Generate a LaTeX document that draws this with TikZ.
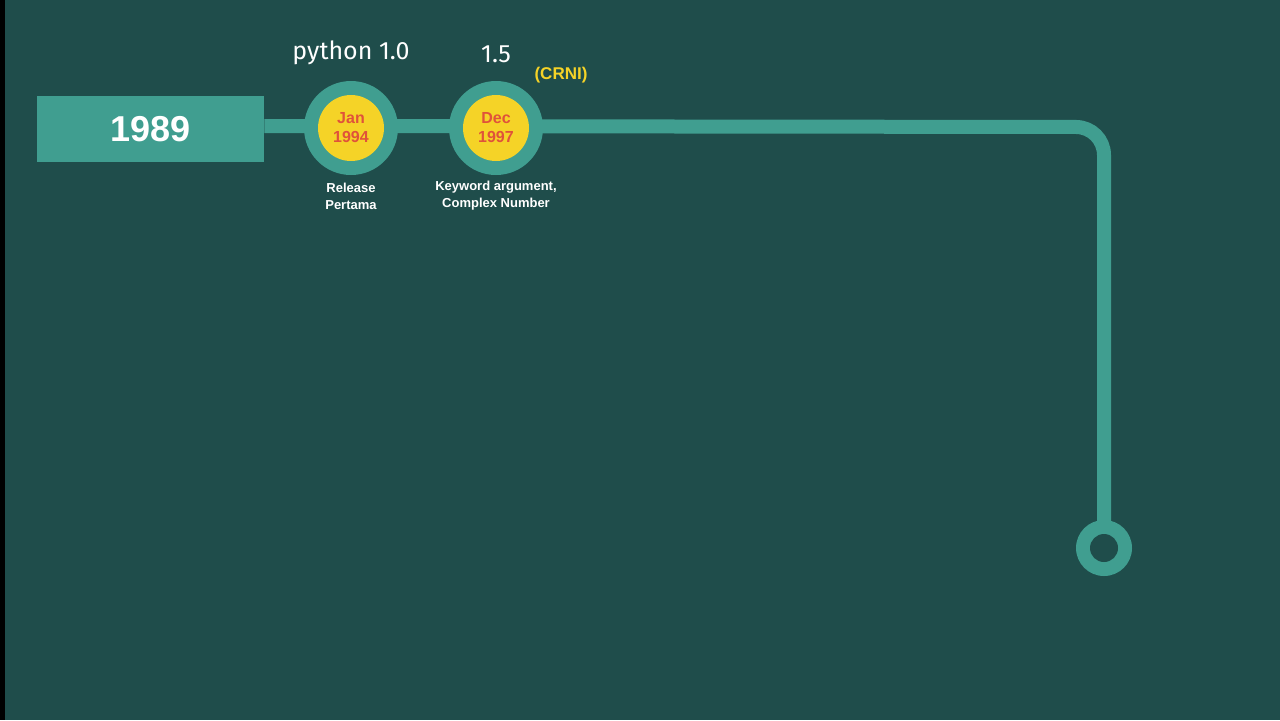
\documentclass[tikz,border=0pt]{standalone}
\usepackage{fontspec}
\setmainfont{Liberation Sans}
\newfontfamily\light{Fira Sans}
\definecolor{bg}{HTML}{1F4D4B}
\definecolor{tl}{HTML}{409E90}
\definecolor{yl}{HTML}{F5D327}
\definecolor{rd}{HTML}{E0523A}
\begin{document}
\begin{tikzpicture}[x=0.5pt,y=-0.5pt,
  outer/.style={circle,fill=tl,minimum size=47pt,inner sep=0pt},
  date/.style={circle,fill=yl,minimum size=33pt,inner sep=0pt,align=center,text=rd,font=\bfseries\fontsize{8}{9.5}\selectfont},
  sub/.style={text=white,align=center,font=\bfseries\fontsize{6.5}{8.5}\selectfont},
  ver/.style={text=white,font=\light\fontsize{12.5}{14}\selectfont}]
\fill[bg] (0,0) rectangle (1280,720);
\fill[black] (0,0) rectangle (5,720);
\useasboundingbox (0,0) rectangle (1280,720);
\node[fill=tl,minimum width=113.5pt,minimum height=33pt,inner sep=0pt,text=white,font=\bfseries\fontsize{18}{20}\selectfont] (y89) at (150.5,129) {1989};
\coordinate (e) at (1104,548);
\draw[tl,line width=7pt,rounded corners=14pt] (y89.east) ++(0,-3) -- (1104,127) -- (e);
\node[outer] (c1) at (351,128) {};
\node[outer] (c2) at (496,128) {};
\node[date] (d1) at (c1) {Jan\\1994};
\node[date] (d2) at (c2) {Dec\\1997};
\node[circle,fill=tl,minimum size=28pt,inner sep=0pt] (end) at (e) {};
\node[circle,fill=bg,minimum size=14pt,inner sep=0pt] at (end) {};
\node[ver] (v1) at (351,53) {python 1.0};
\node[ver] (v2) at (496,54) {1.5};
\node[text=yl,font=\bfseries\fontsize{8.5}{10}\selectfont] (crni) at (561,75) {(CRNI)};
\node[sub] (s1) at (351,196) {Release\\Pertama};
\node[sub] (s2) at (496,196) {Keyword argument,\\Complex Number};
\end{tikzpicture}
\end{document}
